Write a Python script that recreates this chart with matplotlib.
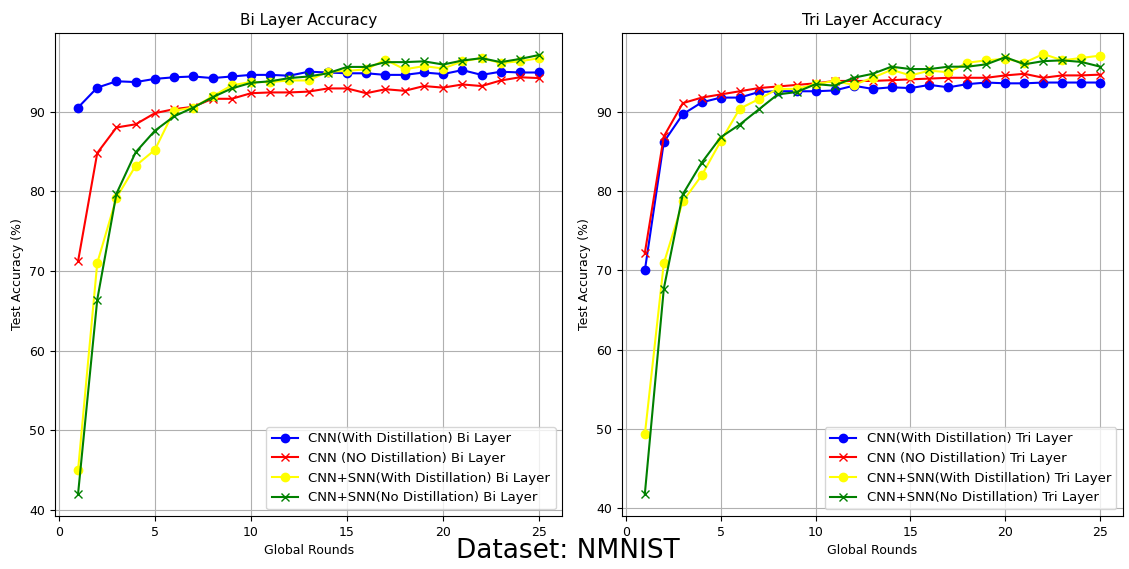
import matplotlib
matplotlib.use("Agg")
import matplotlib.pyplot as plt  # noqa: E402

rounds = list(range(1, 26))

# Bi layer
bi_cnn_kd = [90.5, 93.0, 93.8, 93.7, 94.1, 94.3, 94.4, 94.2, 94.4, 94.6, 94.6, 94.5, 95.0,
             94.9, 94.8, 94.8, 94.6, 94.6, 94.9, 94.7, 95.2, 94.6, 95.0, 94.9, 94.9]
bi_cnn_nokd = [71.2, 84.8, 88.0, 88.4, 89.8, 90.3, 90.6, 91.6, 91.6, 92.3, 92.4, 92.4, 92.5,
               92.9, 92.9, 92.3, 92.8, 92.6, 93.2, 93.0, 93.4, 93.2, 93.9, 94.3, 94.2]
bi_snn_kd = [45.0, 71.0, 79.2, 83.2, 85.2, 90.1, 90.5, 91.9, 93.3, 93.7, 93.7, 93.9, 93.9,
             95.0, 95.1, 95.3, 96.5, 95.3, 95.7, 95.4, 96.3, 96.7, 96.1, 96.3, 96.7]
bi_snn_nokd = [42.0, 66.4, 79.7, 84.9, 87.6, 89.4, 90.5, 91.8, 92.9, 93.6, 93.8, 94.2, 94.4,
               94.8, 95.6, 95.6, 96.2, 96.2, 96.3, 95.9, 96.4, 96.7, 96.2, 96.6, 97.1]

# Tri layer
tri_cnn_kd = [70.0, 86.2, 89.7, 91.2, 91.8, 91.8, 92.5, 92.6, 92.6, 92.6, 92.7, 93.3, 92.9,
              93.1, 93.0, 93.4, 93.1, 93.5, 93.7, 93.6, 93.6, 93.7, 93.7, 93.7, 93.7]
tri_cnn_nokd = [72.2, 86.9, 91.1, 91.8, 92.2, 92.6, 93.0, 93.2, 93.4, 93.6, 93.9, 93.9, 93.9,
                94.0, 94.1, 94.2, 94.3, 94.3, 94.3, 94.6, 94.8, 94.3, 94.6, 94.6, 94.7]
tri_snn_kd = [49.3, 70.9, 78.7, 82.0, 86.3, 90.4, 91.6, 92.9, 92.9, 93.5, 93.9, 93.4, 94.3,
              95.3, 94.6, 95.2, 95.0, 96.2, 96.5, 96.7, 96.2, 97.3, 96.5, 96.8, 97.1]
tri_snn_nokd = [41.8, 67.7, 79.6, 83.6, 86.8, 88.4, 90.3, 92.2, 92.5, 93.5, 93.3, 94.3, 94.8,
                95.7, 95.4, 95.4, 95.7, 95.7, 96.0, 96.9, 96.0, 96.4, 96.5, 96.3, 95.7]

fig = plt.figure(figsize=(11.29, 5.69), dpi=100)
ax1 = fig.add_axes([0.0487, 0.093, 0.4493, 0.849])
ax2 = fig.add_axes([0.551, 0.093, 0.4437, 0.849])


def panel(ax, name, series):
    styles = [("o", "blue", "CNN(With Distillation)"),
              ("x", "red", "CNN (NO Distillation)"),
              ("o", "yellow", "CNN+SNN(With Distillation)"),
              ("x", "green", "CNN+SNN(No Distillation)")]
    for vals, (m, c, lab) in zip(series, styles):
        ax.plot(rounds, vals, marker=m, color=c, label=f"{lab} {name} Layer")
    ax.set_title(f"{name} Layer Accuracy", fontsize=11)
    ax.set_xlabel("Global Rounds", fontsize=9)
    ax.set_ylabel("Test Accuracy (%)", fontsize=9)
    ax.tick_params(labelsize=9)
    ax.grid(True)
    ax.legend(loc="lower right", fontsize=9.5)


panel(ax1, "Bi", [bi_cnn_kd, bi_cnn_nokd, bi_snn_kd, bi_snn_nokd])
panel(ax2, "Tri", [tri_cnn_kd, tri_cnn_nokd, tri_snn_kd, tri_snn_nokd])
ax2.set_ylim(39.0, 99.95)

fig.text(0.503, 0.008, "Dataset: NMNIST", ha="center", va="bottom", fontsize=19)

fig.savefig("out.png", dpi=100)
